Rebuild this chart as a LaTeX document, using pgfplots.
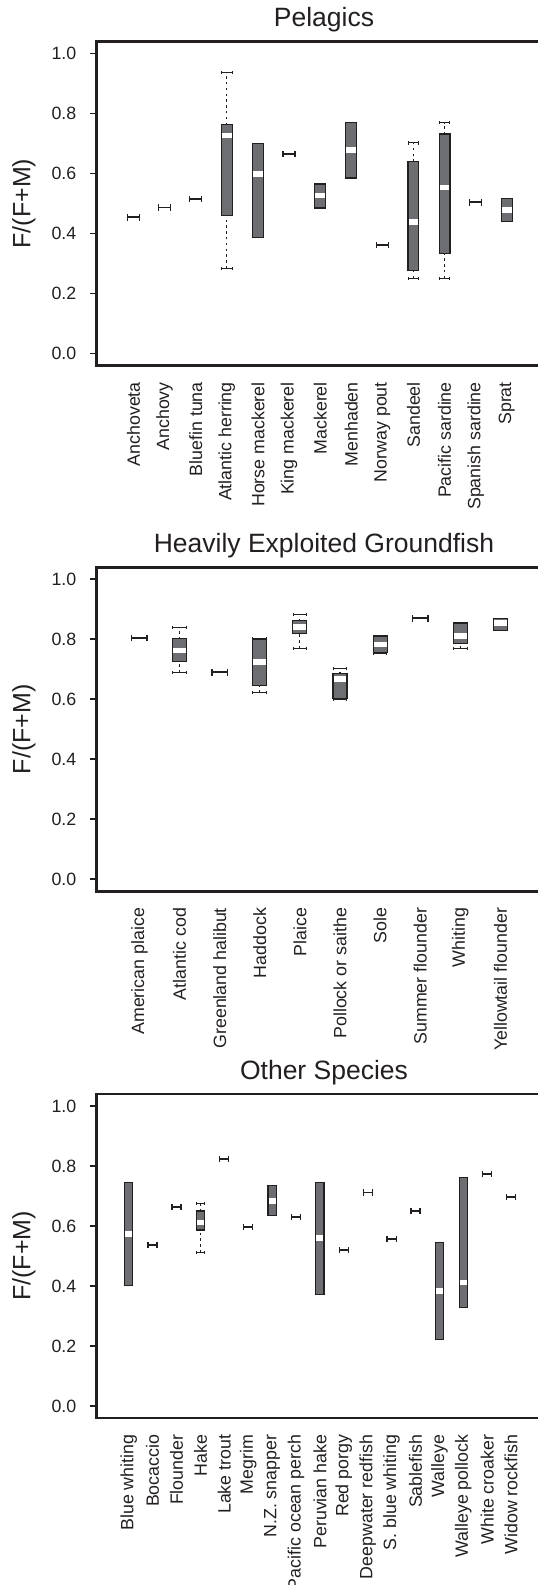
\documentclass[border=0pt]{standalone}
\usepackage{fontspec}
\setmainfont{Liberation Sans}
\usepackage{pgfplots}
\pgfplotsset{compat=1.18}
\definecolor{ink}{HTML}{231F20}
\definecolor{boxgray}{HTML}{6D6E71}
\newcommand\tfs{\fontsize{17.8bp}{20bp}\selectfont}
\newcommand\lfs{\fontsize{25bp}{30bp}\selectfont}
\newcommand\hfs{\fontsize{26.5bp}{31bp}\selectfont}
\pgfplotsset{
  panel/.style={
    scale only axis, width=444.5bp, height=324bp,
    ymin=-0.04, ymax=1.04,
    ytick={0,0.2,0.4,0.6,0.8,1}, yticklabels={0.0,0.2,0.4,0.6,0.8,1.0},
    ytick pos=left, tick align=outside, major tick length=6.5bp,
    ytick style={ink, line width=1.8bp},
    xtick style={draw=none},
    axis line style={ink, line width=2.6bp},
    yticklabel style={font=\tfs, text=ink, anchor=east, inner sep=0pt},
    yticklabel shift=13.5bp,
    xticklabel style={font=\tfs, text=ink, rotate=90, anchor=east, inner sep=0pt},
    xticklabel shift=10bp,
    ylabel={F/(F+M)},
    every axis y label/.style={at={(axis description cs:-0.1631,0.5)}, rotate=90, anchor=center, font=\lfs, text=ink},
    every axis title/.style={at={(axis description cs:0.5118,1.0463)}, anchor=base, font=\hfs, text=ink},
  },
  whisk/.style={draw=ink, line width=1.2bp, dash pattern=on 2.4bp off 3.4bp, mark=none, forget plot},
  boxout/.style={draw=ink, line width=\bwo bp, line cap=butt, mark=none, forget plot,
    shorten <=-1.2bp, shorten >=-1.2bp},
  boxin/.style={draw=boxgray, line width=\bw bp, line cap=butt, mark=none, forget plot},
  medst/.style={only marks, mark=-, mark size=\bwh bp, forget plot,
    mark options={draw=white, line width=5.5bp, line cap=butt}},
  capst/.style={draw=none, mark=none, forget plot,
    error bars/.cd, x dir=both, x fixed=0.17, error mark=|,
    error bar style={draw=ink, line width=1.1bp, solid},
    error mark options={draw=ink, mark size=1.6bp, line width=1bp}},
  singlest/.style={draw=none, mark=none, forget plot,
    error bars/.cd, x dir=both, x fixed=0.19, error mark=|,
    error bar style={draw=ink, line width=1.8bp, solid},
    error mark options={draw=ink, mark size=3.2bp, line width=1.3bp}},
}
% #1 position, #2 lower whisker, #3 lower quartile, #4 median, #5 upper quartile, #6 upper whisker
\newcommand\fishbox[6]{%
  \addplot[whisk] coordinates {(#1,#2) (#1,#3)};
  \addplot[whisk] coordinates {(#1,#5) (#1,#6)};
  \addplot[boxout] coordinates {(#1,#3) (#1,#5)};
  \addplot[boxin] coordinates {(#1,#3) (#1,#5)};
  \addplot[medst] coordinates {(#1,#4)};
}
\begin{document}
\begin{tikzpicture}
\useasboundingbox (0,0) rectangle (538bp,-1585bp);
% ---------------- Pelagics
\def\bwo{12}\def\bw{9.6}\def\bwh{4.8}
\begin{axis}[panel, at={(96.5bp,-41.5bp)}, anchor=north west,
  xmin=-0.19, xmax=14.10, xtick={1,...,13},
  xticklabels={Anchoveta,Anchovy,Bluefin tuna,Atlantic herring,Horse mackerel,King mackerel,Mackerel,Menhaden,Norway pout,Sandeel,Pacific sardine,Spanish sardine,Sprat},
  title={Pelagics}]
\fishbox{4}{0.284}{0.462}{0.726}{0.762}{0.936}
\fishbox{5}{0.389}{0.389}{0.599}{0.698}{0.698}
\fishbox{7}{0.487}{0.487}{0.527}{0.563}{0.563}
\fishbox{8}{0.587}{0.587}{0.679}{0.768}{0.768}
\fishbox{10}{0.251}{0.279}{0.439}{0.639}{0.702}
\fishbox{11}{0.251}{0.335}{0.554}{0.730}{0.769}
\fishbox{13}{0.442}{0.442}{0.479}{0.516}{0.516}
\addplot[capst] coordinates {(4,0.284) (4,0.936) (10,0.251) (10,0.702) (11,0.251) (11,0.769)};
\addplot[singlest] coordinates {(1,0.454) (2,0.487) (3,0.515) (6,0.666) (9,0.361) (12,0.504)};
\end{axis}
% ---------------- Heavily Exploited Groundfish
\def\bwo{15.2}\def\bw{12.8}\def\bwh{6.4}
\begin{axis}[panel, at={(96.5bp,-567.3bp)}, anchor=north west,
  xmin=-0.07, xmax=11.01, xtick={1,...,10},
  xticklabels={American plaice,Atlantic cod,Greenland halibut,Haddock,Plaice,Pollock or saithe,Sole,Summer flounder,Whiting,Yellowtail flounder},
  title={Heavily Exploited Groundfish}]
\fishbox{2}{0.689}{0.729}{0.762}{0.800}{0.840}
\fishbox{4}{0.623}{0.648}{0.724}{0.801}{0.801}
\fishbox{5}{0.770}{0.821}{0.841}{0.861}{0.883}
\fishbox{6}{0.600}{0.605}{0.668}{0.683}{0.703}
\fishbox{7}{0.752}{0.759}{0.783}{0.809}{0.809}
\fishbox{9}{0.770}{0.787}{0.811}{0.854}{0.854}
\fishbox{10}{0.832}{0.832}{0.855}{0.868}{0.868}
\addplot[capst] coordinates {(2,0.689) (2,0.840) (4,0.623) (4,0.801) (5,0.770) (5,0.883) (6,0.600) (6,0.703) (7,0.752) (9,0.770) (9,0.854)};
\addplot[singlest] coordinates {(1,0.804) (3,0.690) (8,0.870)};
\end{axis}
% ---------------- Other Species
\def\bwo{9.3}\def\bw{6.9}\def\bwh{3.45}
\begin{axis}[panel, at={(96.5bp,-1094bp)}, anchor=north west,
  xmin=-0.347, xmax=18.25, xtick={1,...,17},
  xticklabels={Blue whiting,Bocaccio,Flounder,Hake,Lake trout,Megrim,N.Z. snapper,Pacific ocean perch,Peruvian hake,Red porgy,Deepwater redfish,S. blue whiting,Sablefish,Walleye,Walleye pollock,White croaker,Widow rockfish},
  title={Other Species}]
\fishbox{1}{0.403}{0.403}{0.573}{0.742}{0.742}
\fishbox{4}{0.512}{0.589}{0.611}{0.648}{0.676}
\fishbox{7}{0.637}{0.637}{0.683}{0.733}{0.733}
\fishbox{9}{0.373}{0.373}{0.560}{0.744}{0.744}
\fishbox{14}{0.223}{0.223}{0.384}{0.544}{0.544}
\fishbox{15}{0.330}{0.330}{0.412}{0.760}{0.760}
\addplot[capst] coordinates {(4,0.512) (4,0.676)};
\addplot[singlest] coordinates {(2,0.536) (3,0.663) (5,0.824) (6,0.596) (8,0.631) (10,0.520) (11,0.712) (12,0.556) (13,0.650) (16,0.773) (17,0.696)};
\end{axis}
\end{tikzpicture}
\end{document}
